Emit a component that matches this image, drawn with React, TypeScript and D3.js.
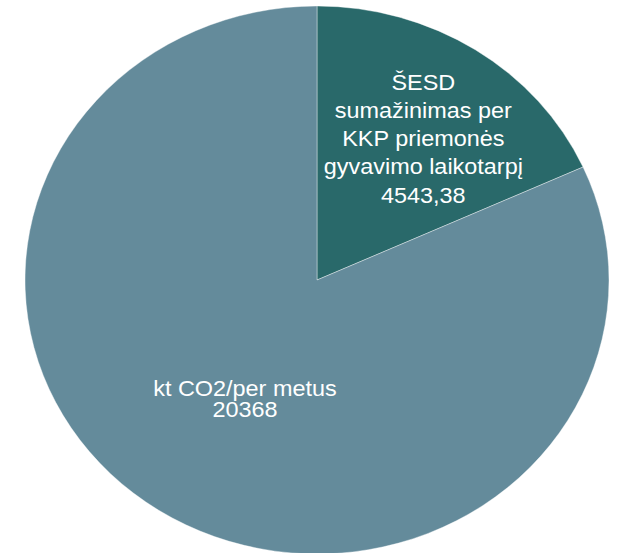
import React from "react";
import * as d3 from "d3";

const categories = [
  "ŠESD sumažinimas per KKP priemonės gyvavimo laikotarpį",
  "kt CO2/per metus",
];
const values = [4543.38, 20368];
const valueLabels = ["4543,38", "20368"];
const labelLines = [
  ["ŠESD", "sumažinimas per", "KKP priemonės", "gyvavimo laikotarpį", valueLabels[0]],
  ["kt CO2/per metus", valueLabels[1]],
];
const colors = ["#29696a", "#648b9b"];

const W = 621;
const H = 553;
const cx = 317;
const cy = 280;
const rx = 292;
const ry = 274;

export default function App() {
  const data = categories.map((c, i) => ({ c, v: values[i], i }));
  const pie = d3.pie<any>().sort(null).value((d) => d.v);
  const arcs = pie(data);
  const arcGen = d3.arc<any>().innerRadius(0).outerRadius(rx);
  const labelK = [0.64, 0.49];
  const labelDx = [5, 5.5];
  const labelDy = [6, 6];
  const lineH = [28.25, 20.3];
  const fontSize = 21.5;
  const stretch = 1.09;
  return (
    <svg
      width={W}
      height={H}
      style={{ position: "absolute", left: 0, top: 0 }}
      fontFamily="'Liberation Sans', Arial, sans-serif"
    >
      <g transform={`translate(${cx},${cy}) scale(1,${ry / rx})`}>
        {arcs.map((a, i) => (
          <path
            key={i}
            d={arcGen(a) || ""}
            fill={colors[i]}
            stroke="#ffffff"
            strokeOpacity={0.5}
            strokeWidth={0.8}
          />
        ))}
      </g>
      {arcs.map((a, i) => {
        const mid = (a.startAngle + a.endAngle) / 2;
        const x = cx + labelK[i] * rx * Math.sin(mid) + labelDx[i];
        const y = cy - labelK[i] * ry * Math.cos(mid) + labelDy[i];
        const lines = labelLines[i];
        const n = lines.length;
        return (
          <g key={i} transform={`translate(${x},${y}) scale(${stretch},1)`}>
            <text textAnchor="middle" fill="#ffffff" fontSize={fontSize}>
              {lines.map((l, j) => (
                <tspan key={j} x={0} y={(j - (n - 1) / 2) * lineH[i] + 7.6}>
                  {l}
                </tspan>
              ))}
            </text>
          </g>
        );
      })}
    </svg>
  );
}
